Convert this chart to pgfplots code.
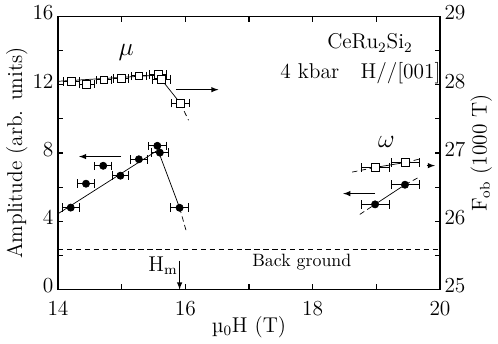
\documentclass[border=0pt]{standalone}
\usepackage{pgfplots}
\pgfplotsset{compat=1.18}
\begin{document}
\begin{tikzpicture}
\pgfplotsset{
  every axis/.append style={
    scale only axis, width=214pt, height=153pt,
    xmin=14, xmax=20,
    tick align=inside,
    major tick length=3pt, minor tick length=3pt,
    axis line style={line width=0.8pt},
    every tick/.style={line width=0.6pt, black},
    font=\large,
  },
  ebar/.style={error bars/.cd, x dir=both, x explicit,
    error mark=|,
    error mark options={mark size=2.4pt, black, line width=0.5pt},
    error bar style={line width=0.5pt}},
}
% amplitude (left axis)
\begin{axis}[
  ymin=0, ymax=16, ytick={0,4,8,12,16}, minor y tick num=1,
  xtick={14,16,18,20}, minor x tick num=1,
  ytick pos=left, xtick pos=both,
  ylabel={Amplitude (arb. units)},
  xlabel={µ$_0$H (T)},
  ylabel style={yshift=-4pt},
  xlabel style={yshift=6pt},
  yticklabel style={xshift=1pt, yshift=2pt},
  xticklabel style={yshift=-3pt},
]
% background level
\addplot[densely dashed, thin] coordinates {(14,2.35) (20,2.35)};
\node at (axis cs:17.83,1.6) {\normalsize Back ground};
% fitted lines
\addplot[thin] coordinates {(14,4.44) (15.57,8.17) (15.91,4.79)};
\addplot[thin, densely dashed] coordinates {(15.91,4.79) (16.01,3.48)};
\addplot[thin, densely dashed] coordinates {(18.74,4.4) (18.98,4.99)};
\addplot[thin] coordinates {(18.98,4.99) (19.45,6.14)};
\addplot[thin, densely dashed] coordinates {(19.45,6.14) (19.68,6.6)};
% mu amplitudes
\addplot[only marks, mark=*, mark size=2pt, black, ebar] table[x=x, y=y, x error=ex] {
x     y     ex
14.20 4.80  0.13
14.44 6.20  0.13
14.71 7.25  0.13
14.98 6.67  0.13
15.27 7.63  0.13
15.56 8.42  0.14
15.60 8.02  0.14
15.91 4.79  0.14
};
% omega amplitudes
\addplot[only marks, mark=*, mark size=2pt, black, ebar] table[x=x, y=y, x error=ex] {
x     y     ex
18.98 4.99  0.22
19.45 6.14  0.22
};
% arrows and labels
\draw[-latex, thin] (axis cs:14.99,7.79) -- (axis cs:14.33,7.79);
\draw[-latex, thin] (axis cs:18.98,5.62) -- (axis cs:18.48,5.62);
\draw[-latex, thin] (axis cs:15.85,11.71) -- (axis cs:16.52,11.71);
\draw[-latex, thin] (axis cs:19.79,7.26) -- (axis cs:19.92,7.26);
\draw[-latex, thin] (axis cs:15.91,1.7) -- (axis cs:15.91,0);
\node at (axis cs:15.65,1.4) {H$_{\rm m}$};
\node at (axis cs:15.07,13.87) {\Large$\mu$};
\node at (axis cs:19.16,8.65) {\Large$\omega$};
\node at (axis cs:18.9,14.45) {CeRu$_2$Si$_2$};
\node at (axis cs:18.75,12.65) {4 kbar\quad H//[001]};
\end{axis}
% frequencies (right axis)
\begin{axis}[
  ymin=25, ymax=29, ytick={25,26,27,28,29}, minor y tick num=1,
  axis y line*=right, axis x line=none,
  ylabel={F$_{\rm ob}$ (1000 T)},
  ylabel style={yshift=4pt},
  yticklabel style={xshift=-1pt, yshift=2pt},
]
\addplot[thin] coordinates {(14,28.05) (15.57,28.14) (15.92,27.73)};
\addplot[thin, densely dashed] coordinates {(15.92,27.73) (16.05,27.48)};
\addplot[thin, densely dashed] coordinates {(18.62,26.72) (18.99,26.79)};
\addplot[thin] coordinates {(18.99,26.79) (19.45,26.86)};
\addplot[thin, densely dashed] coordinates {(19.45,26.86) (19.72,26.92)};
\addplot[only marks, mark=square*, mark size=2.2pt, black, fill=white, ebar] table[x=x, y=y, x error=ex] {
x     y      ex
14.21 28.05  0.12
14.45 28.01  0.12
14.72 28.07  0.12
14.99 28.09  0.12
15.27 28.13  0.12
15.57 28.15  0.14
15.62 28.08  0.14
15.92 27.73  0.14
};
\addplot[only marks, mark=square*, mark size=2.2pt, black, fill=white, ebar] table[x=x, y=y, x error=ex] {
x     y      ex
18.99 26.79  0.22
19.45 26.86  0.22
};
\end{axis}
\end{tikzpicture}
\end{document}
